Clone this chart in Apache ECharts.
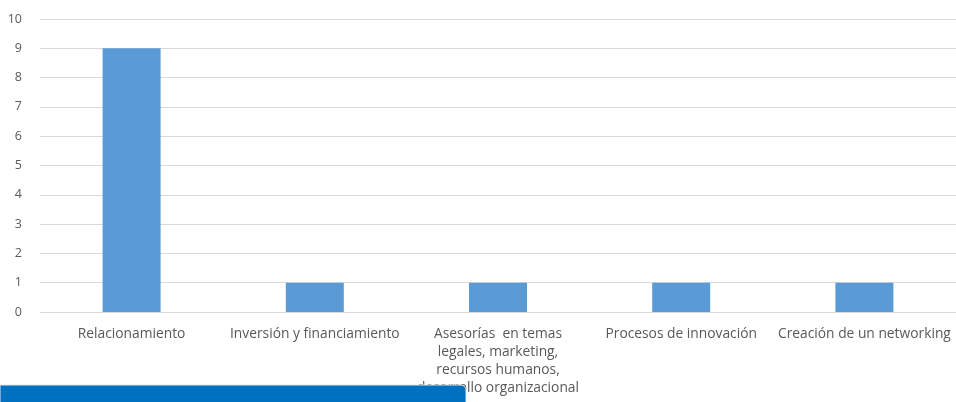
<!DOCTYPE html>
<html>
<head>
<meta charset="utf-8">
<script src="https://cdn.jsdelivr.net/npm/echarts@6/dist/echarts.min.js"></script>
<style>html,body{margin:0;padding:0;background:#fff}#c{width:956px;height:402px}</style>
</head>
<body>
<div id="c"></div>
<script>
var categories = ["Relacionamiento", "Inversión y financiamiento", "Asesorías  en temas\nlegales, marketing,\nrecursos humanos,\ndesarrollo organizacional", "Procesos de innovación", "Creación de un networking"];
var values = [9, 1, 1, 1, 1];
var yTicks = [0, 1, 2, 3, 4, 5, 6, 7, 8, 9, 10];

var chart = echarts.init(document.getElementById('c'), null, {renderer: 'canvas'});
chart.setOption({
  animation: false,
  grid: {left: 40, right: 0, top: 19, bottom: 90, containLabel: false},
  xAxis: {
    type: 'category',
    data: categories,
    axisLine: {lineStyle: {color: '#d9d9d9', width: 1}},
    axisTick: {show: false},
    axisLabel: {color: '#595959', fontFamily: 'Open Sans', fontSize: 13.8, lineHeight: 18, margin: 13, interval: 0}
  },
  yAxis: {
    type: 'value',
    min: yTicks[0], max: yTicks[yTicks.length - 1], interval: 1,
    axisLine: {show: false},
    axisTick: {show: false},
    splitLine: {lineStyle: {color: '#d9d9d9', width: 1}},
    axisLabel: {color: '#595959', fontFamily: 'Open Sans', fontSize: 12.5, margin: 18}
  },
  series: [{
    type: 'bar',
    data: values,
    barWidth: 58,
    itemStyle: {color: '#5b9bd5'}
  }],
  graphic: [{
    type: 'rect',
    shape: {x: 0, y: 385, width: 466, height: 20, r: [0, 5, 0, 0]},
    style: {fill: '#0070c0', stroke: '#e6e6e6', lineWidth: 1},
    z: 100
  }]
});
</script>
</body>
</html>
